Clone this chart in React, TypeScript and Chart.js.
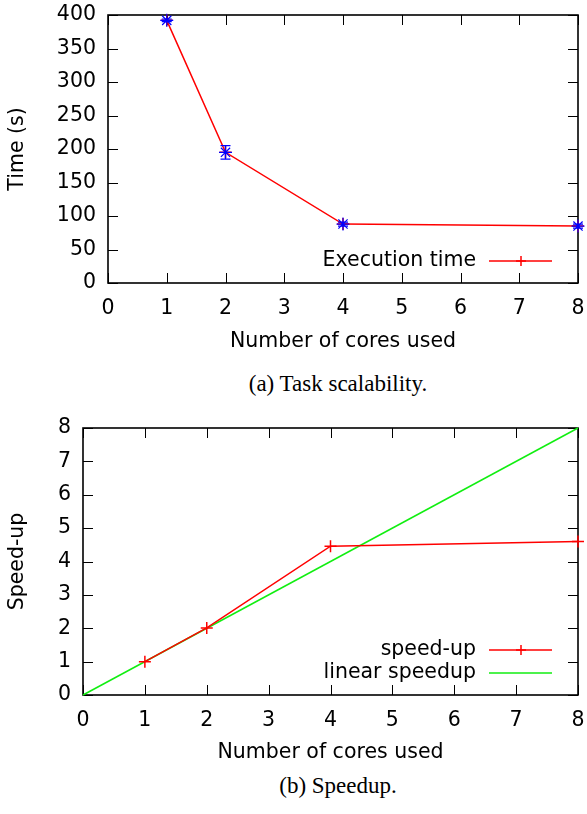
import React, { useEffect, useRef } from "react";
import { Chart, registerables } from "chart.js";

Chart.register(...registerables);

// ---- data ----
const cores = [1, 2, 4, 8];
const execTime = [392, 195, 88, 85];
const execTimeErr = [2, 10, 3, 3];
const speedUp = [1, 2.01, 4.46, 4.6];
const linearX = [0, 8];
const linearY = [0, 8];
const xTickMin = 0;
const xTickMax = 8;

const FONT_FAMILY = '"DejaVu Sans", sans-serif';
const FONT_SIZE = 20.5;

const framePlugin = {
  id: "frame",
  beforeDatasetsDraw(chart: any) {
    const { ctx, chartArea, scales } = chart;
    const { left, right, top, bottom } = chartArea;
    const tl = 10;
    ctx.save();
    ctx.strokeStyle = "#000";
    ctx.lineWidth = 1;
    ctx.beginPath();
    scales.x.ticks.forEach((t: any) => {
      const px = Math.round(scales.x.getPixelForValue(t.value)) + 0.5;
      ctx.moveTo(px, bottom);
      ctx.lineTo(px, bottom - tl);
      ctx.moveTo(px, top);
      ctx.lineTo(px, top + tl);
    });
    scales.y.ticks.forEach((t: any) => {
      const py = Math.round(scales.y.getPixelForValue(t.value)) + 0.5;
      ctx.moveTo(left, py);
      ctx.lineTo(left + tl, py);
      ctx.moveTo(right, py);
      ctx.lineTo(right - tl, py);
    });
    ctx.stroke();
    ctx.lineWidth = 1.6;
    ctx.strokeRect(left, top, right - left, bottom - top);
    ctx.restore();
  },
};

const errorBarPlugin = {
  id: "errorBars",
  afterDatasetsDraw(chart: any) {
    const { ctx, scales } = chart;
    chart.data.datasets.forEach((ds: any, i: number) => {
      if (!ds.errorBars) return;
      const meta = chart.getDatasetMeta(i);
      ctx.save();
      ctx.strokeStyle = ds.borderColor;
      ctx.lineWidth = 1.2;
      meta.data.forEach((el: any, j: number) => {
        const v = ds.data[j].y;
        const e = ds.errorBars[j];
        const x = el.x;
        const yHi = scales.y.getPixelForValue(v + e);
        const yLo = scales.y.getPixelForValue(v - e);
        const cap = 5;
        ctx.beginPath();
        ctx.moveTo(x, yHi);
        ctx.lineTo(x, yLo);
        ctx.moveTo(x - cap, yHi);
        ctx.lineTo(x + cap, yHi);
        ctx.moveTo(x - cap, yLo);
        ctx.lineTo(x + cap, yLo);
        ctx.stroke();
      });
      ctx.restore();
    });
  },
};

const keyPlugin = {
  id: "key",
  afterDraw(chart: any) {
    const { ctx, chartArea } = chart;
    const { right, bottom } = chartArea;
    const items = chart.data.datasets.filter((d: any) => d.inKey);
    const n = items.length;
    ctx.save();
    ctx.font = `${FONT_SIZE}px ${FONT_FAMILY}`;
    ctx.textAlign = "right";
    ctx.textBaseline = "middle";
    items.forEach((ds: any, idx: number) => {
      const y = bottom - 22 - 23 * (n - 1 - idx);
      ctx.fillStyle = "#000";
      ctx.fillText(ds.label, right - 102, y);
      ctx.strokeStyle = ds.borderColor;
      ctx.lineWidth = 1.5;
      ctx.beginPath();
      ctx.moveTo(right - 89, y);
      ctx.lineTo(right - 26, y);
      ctx.stroke();
      if (ds.pointStyle === "cross") {
        const cx = right - 57;
        const r = 5;
        ctx.beginPath();
        ctx.moveTo(cx - r, y);
        ctx.lineTo(cx + r, y);
        ctx.moveTo(cx, y - r);
        ctx.lineTo(cx, y + r);
        ctx.stroke();
      }
    });
    ctx.restore();
  },
};

function zeroPadding(scale: any) {
  scale.paddingLeft = 0;
  scale.paddingRight = 0;
  scale.paddingTop = 0;
  scale.paddingBottom = 0;
}

function makeScales(opts: {
  yMax: number;
  yStep: number;
  yTitle: string;
  yWidth: number;
  xHeight: number;
  xTitlePad: number;
}) {
  const font = { family: FONT_FAMILY, size: FONT_SIZE };
  return {
    x: {
      type: "linear",
      min: xTickMin,
      max: xTickMax,
      grid: { display: false, drawTicks: false },
      border: { display: false },
      ticks: { stepSize: 1, padding: 13, font, color: "#000", autoSkip: false, maxRotation: 0 },
      title: {
        display: true,
        text: "Number of cores used",
        font,
        color: "#000",
        padding: { top: 0, bottom: opts.xTitlePad },
      },
      afterFit(scale: any) {
        scale.height = opts.xHeight;
        zeroPadding(scale);
      },
    },
    y: {
      type: "linear",
      min: 0,
      max: opts.yMax,
      grid: { display: false, drawTicks: false },
      border: { display: false },
      ticks: { stepSize: opts.yStep, padding: 12, font, color: "#000", autoSkip: false },
      title: {
        display: true,
        text: opts.yTitle,
        font,
        color: "#000",
        padding: { top: 5, bottom: 0 },
      },
      afterFit(scale: any) {
        scale.width = opts.yWidth;
        zeroPadding(scale);
      },
    },
  };
}

function ChartCanvas({ top, height, build }: { top: number; height: number; build: () => any }) {
  const ref = useRef<HTMLCanvasElement | null>(null);
  useEffect(() => {
    if (!ref.current) return;
    const chart = new Chart(ref.current, build());
    return () => chart.destroy();
  }, []);
  return (
    <canvas
      ref={ref}
      width={587}
      height={height}
      style={{ position: "absolute", left: 0, top, width: 587, height }}
    />
  );
}

function buildTimeChart() {
  return {
    type: "line",
    data: {
      datasets: [
        {
          label: "Execution time (error)",
          data: cores.map((c, i) => ({ x: c, y: execTime[i] })),
          errorBars: execTimeErr,
          showLine: false,
          borderColor: "#0000ff",
          backgroundColor: "#0000ff",
          pointStyle: "star",
          pointRadius: 6.5,
          pointBorderWidth: 1.2,
          clip: false,
        },
        {
          label: "Execution time",
          inKey: true,
          data: cores.map((c, i) => ({ x: c, y: execTime[i] })),
          borderColor: "#ff0000",
          backgroundColor: "#ff0000",
          borderWidth: 1.5,
          pointStyle: "cross",
          pointRadius: 6,
          pointBorderWidth: 1.5,
          tension: 0,
          clip: false,
        },
      ],
    },
    options: {
      responsive: false,
      maintainAspectRatio: false,
      animation: false,
      devicePixelRatio: 1,
      layout: { padding: { top: 15, right: 9, left: 0, bottom: 0 } },
      plugins: { legend: { display: false }, tooltip: { enabled: false } },
      scales: makeScales({ yMax: 400, yStep: 50, yTitle: "Time (s)", yWidth: 108, xHeight: 82, xTitlePad: 11 }),
    },
    plugins: [framePlugin, errorBarPlugin, keyPlugin],
  };
}

function buildSpeedChart() {
  return {
    type: "line",
    data: {
      datasets: [
        {
          label: "speed-up",
          inKey: true,
          data: cores.map((c, i) => ({ x: c, y: speedUp[i] })),
          borderColor: "#ff0000",
          backgroundColor: "#ff0000",
          borderWidth: 1.5,
          pointStyle: "cross",
          pointRadius: 6,
          pointBorderWidth: 1.5,
          tension: 0,
          clip: false,
        },
        {
          label: "linear speedup",
          inKey: true,
          data: linearX.map((x, i) => ({ x, y: linearY[i] })),
          borderColor: "#11ee11",
          backgroundColor: "#11ee11",
          borderWidth: 1.5,
          pointRadius: 0,
          tension: 0,
          clip: false,
        },
      ],
    },
    options: {
      responsive: false,
      maintainAspectRatio: false,
      animation: false,
      devicePixelRatio: 1,
      layout: { padding: { top: 15, right: 9, left: 0, bottom: 0 } },
      plugins: { legend: { display: false }, tooltip: { enabled: false } },
      scales: makeScales({ yMax: 8, yStep: 1, yTitle: "Speed-up", yWidth: 83, xHeight: 78, xTitlePad: 8 }),
    },
    plugins: [framePlugin, keyPlugin],
  };
}

const captionStyle = (top: number): React.CSSProperties => ({
  position: "absolute",
  top,
  left: 338 - 200,
  width: 400,
  textAlign: "center",
  fontFamily: '"Liberation Serif", "Times New Roman", serif',
  fontSize: 23,
  lineHeight: "23px",
  color: "#000",
  whiteSpace: "nowrap",
});

export default function App() {
  return (
    <div style={{ position: "absolute", left: 0, top: 0, width: 587, height: 814, background: "#fff", overflow: "hidden" }}>
      <ChartCanvas top={0} height={365} build={buildTimeChart} />
      <div style={captionStyle(372)}>(a) Task scalability.</div>
      <ChartCanvas top={413} height={360} build={buildSpeedChart} />
      <div style={captionStyle(774)}>(b) Speedup.</div>
    </div>
  );
}
